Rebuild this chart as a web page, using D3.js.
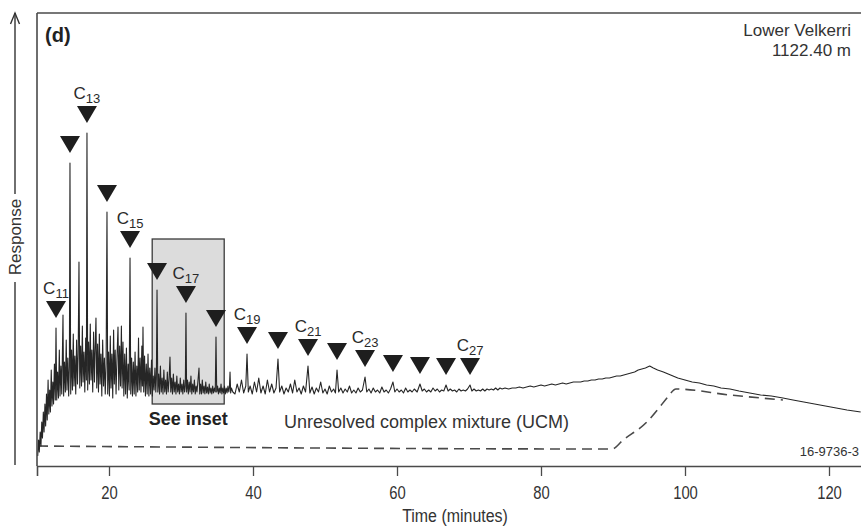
<!DOCTYPE html>
<html>
<head>
<meta charset="utf-8">
<script src="https://cdn.jsdelivr.net/npm/d3@7"></script>
<style>
  html, body { margin: 0; padding: 0; background: #fff; }
  svg { display: block; }
  .sans { font-family: "Liberation Sans", Arial, sans-serif; }
</style>
</head>
<body>
<svg id="chart" width="861" height="532"></svg>
<script>
// ---------------- DATA ----------------
const xTicks = [20, 40, 60, 80, 100, 120];
const xLabel = "Time (minutes)";
const yLabel = "Response";
const panelLabel = "(d)";
const sampleName = "Lower Velkerri";
const sampleDepth = "1122.40 m";
const figureCode = "16-9736-3";
const ucmLabel = "Unresolved complex mixture (UCM)";
const insetLabel = "See inset";

// n-alkane peaks (carbon number, retention time min, peak response)
const carbonNumbers = [11, 12, 13, 14, 15, 16, 17, 18, 19, 20, 21, 22, 23, 24, 25, 26, 27];
const alkaneTimes   = [12.64, 14.58, 16.94, 19.72, 22.92, 26.67, 30.69, 34.86, 39.17, 43.47, 47.64, 51.67, 55.56, 59.44, 63.19, 66.81, 70.14];
const alkanePeaks   = [138, 303, 333, 254, 208, 176, 153, 129, 112, 107, 100, 96, 89, 84, 82, 81, 81];
const labelledCarbons = [11, 13, 15, 17, 19, 21, 23, 27];

// inset box (time range, response range)
const insetTimes = [26, 36];
const insetResponse = [62, 227];

// UCM hump baseline (dashed)
const ucmTime = [10.14, 89.86, 91.4, 94.7, 96.5, 97.6, 98.75, 106.25, 113.6];
const ucmResp = [20, 17, 26, 44, 59, 69, 77, 71, 66];

// chromatogram trace [time, response]
const traceEarly = [
[10.10,10],[10.22,26],[10.32,14],[10.44,34],[10.55,20],[10.66,44],[10.76,28],[10.88,54],[10.98,34],[11.10,62],
[11.20,40],[11.32,72],[11.42,46],[11.54,86],[11.64,52],[11.76,76],[11.86,54],[11.98,96],[12.08,60],[12.20,84],
[12.30,62],[12.42,102],[12.54,66],[12.64,138],[12.74,66],[12.86,94],[12.98,68],[13.10,116],[13.20,70],[13.32,100],
[13.44,72],[13.52,108],[13.61,151],[13.70,70],[13.82,104],[13.94,74],[14.06,126],[14.16,76],[14.28,108],[14.40,70],
[14.50,100],[14.58,303],[14.68,72],[14.80,116],[14.92,76],[15.04,132],[15.14,80],[15.26,110],[15.38,72],[15.50,126],
[15.62,82],[15.72,112],[15.83,204],[15.94,78],[16.06,120],[16.18,80],[16.30,140],[16.40,84],[16.52,114],[16.64,74],
[16.76,128],[16.86,86],[16.94,333],[17.04,76],[17.16,124],[17.28,82],[17.40,142],[17.50,86],[17.62,116],[17.74,74],
[17.86,134],[17.98,84],[18.08,118],[18.19,148],[18.30,78],[18.42,122],[18.54,74],[18.66,132],[18.76,82],[18.88,112],
[19.00,70],[19.12,126],[19.24,80],[19.36,108],[19.48,72],[19.60,102],[19.72,254],[19.82,72],[19.94,114],[20.06,70],
[20.18,130],[20.28,78],[20.40,112],[20.52,68],[20.64,136],[20.74,82],[20.86,116],[20.98,72],[21.10,106],[21.25,139],
[21.36,76],[21.48,120],[21.60,80],[21.72,140],[21.82,78],[21.94,124],[22.06,70],[22.18,112],[22.30,72],[22.42,118],
[22.54,68],[22.66,102],[22.80,76],[22.92,208],[23.02,72],[23.14,108],[23.26,70],[23.38,104],[23.50,72],[23.62,114],
[23.74,70],[23.86,100],[23.98,74],[24.10,128],[24.20,76],[24.32,108],[24.44,74],[24.56,120],[24.64,80],[24.72,139],
[24.82,74],[24.94,110],[25.06,70],[25.18,102],[25.30,72],[25.42,112],[25.54,70],[25.66,98],[25.78,72],[25.90,106],
[26.02,70],[26.14,90],[26.26,76],[26.38,98],[26.50,74],[26.58,88],[26.67,176],[26.78,74],[26.90,92],[27.02,72],
[27.14,100],[27.26,74],[27.38,88],[27.50,72],[27.62,96],[27.74,74],[27.86,86],[27.98,72],[28.10,94],[28.22,74],
[28.34,86],[28.47,109],[28.58,74],[28.70,88],[28.82,72],[28.94,92],[29.06,74],[29.18,84],[29.30,72],[29.42,90],
[29.54,74],[29.66,82],[29.78,72],[29.90,88],[30.02,74],[30.14,82],[30.26,72],[30.38,86],[30.50,74],[30.60,80],
[30.69,153],[30.78,74],[30.90,86],[31.02,72],[31.14,84],[31.26,74],[31.38,90],[31.50,72],[31.62,82],[31.74,74],
[31.86,86],[31.98,72],[32.10,80],[32.22,74],[32.34,84],[32.50,98],[32.60,72],[32.72,82],[32.84,72],[32.96,86],
[33.08,73],[33.20,80],[33.32,72],[33.44,84],[33.56,73],[33.68,79],[33.80,72],[33.92,82],[34.04,73],[34.16,78],
[34.28,72],[34.40,80],[34.52,73],[34.64,78],[34.76,74],[34.86,129],[34.96,74],[35.08,80],[35.20,72],[35.32,78],
[35.44,73],[35.56,82],[35.68,72],[35.80,78],[35.92,73],[36.04,80],[36.16,72],[36.28,78],[36.40,73],[36.52,80],
[36.64,74],[36.72,78],[36.81,94],[36.90,73],[37.00,78]
];
const traceMiddle = [
[37.2,74],[37.5,72],[37.8,82],[38.1,74],[38.4,86],[38.7,73],[39.0,80],[39.17,112],[39.35,74],[39.6,80],
[39.9,72],[40.2,84],[40.5,74],[40.8,88],[41.1,73],[41.4,80],[41.7,72],[42.0,86],[42.3,74],[42.6,82],
[42.9,73],[43.2,78],[43.47,107],[43.7,74],[44.0,80],[44.3,72],[44.6,78],[44.9,74],[45.2,82],[45.5,73],
[45.8,86],[46.1,74],[46.4,78],[46.7,72],[47.0,80],[47.3,74],[47.64,100],[47.9,73],[48.2,79],[48.5,72],
[48.8,78],[49.1,74],[49.4,84],[49.7,73],[50.0,77],[50.3,72],[50.6,80],[50.9,74],[51.2,77],[51.45,73],
[51.67,96],[51.9,74],[52.2,78],[52.5,73],[52.8,77],[53.1,74],[53.4,80],[53.7,73],[54.0,76],[54.3,73],
[54.6,78],[54.9,74],[55.2,76],[55.56,89],[55.8,74],[56.1,77],[56.4,73],[56.7,78],[57.0,74],[57.3,76],
[57.6,73],[57.9,79],[58.2,74],[58.5,76],[58.8,73],[59.1,77],[59.44,84],[59.7,74],[60.0,77],[60.3,74],
[60.6,76],[60.9,73],[61.2,78],[61.5,74],[61.8,76],[62.1,74],[62.4,77],[62.8,74],[63.19,82],[63.5,75],
[63.8,77],[64.1,74],[64.4,76],[64.7,74],[65.0,78],[65.3,75],[65.6,77],[65.9,74],[66.2,76],[66.5,75],
[66.81,81],[67.1,75],[67.4,77],[67.7,75],[68.0,76],[68.3,74],[68.6,77],[68.9,75],[69.2,76],[69.5,75],
[69.8,77],[70.14,81],[70.4,75],[70.7,77],[71.0,75],[71.3,76],[71.6,75],[71.9,77],[72.2,75],[72.5,77],
[72.8,76],[73.1,77],[73.4,76],[73.7,78],[74.0,76],[74.3,78]
];
const traceLate = [
[74.6,77],[75.0,78],[75.5,77],[76.0,78],[76.5,78],[77.0,79],[77.5,78],[78.0,79],[78.5,80],[79.0,79],
[79.5,80],[80.0,81],[80.5,80],[81.0,81],[81.5,82],[82.0,81],[82.5,82],[83.0,83],[83.5,82],[84.0,83],
[84.5,84],[85.0,84],[85.5,84],[86.0,85],[86.5,85],[87.0,86],[87.5,86],[88.0,87],[88.5,87],[89.0,88],
[89.5,88],[90.0,89],[90.5,90],[91.0,90],[91.5,91],[92.0,92],[92.5,93],[93.0,94],[93.5,96],[94.0,97],
[94.5,98],[95.1,100],[95.6,98],[96.2,96],[97.0,94],[98.0,91],[99.0,88],[100.0,86],[101.0,84],[102.0,83],
[103.0,81],[104.0,80],[105.0,78],[106.25,77],[107.5,75],[109.0,73],[110.5,71],[112.0,70],[113.6,68],[115.0,66],
[116.5,64],[118.0,62],[119.5,60],[121.0,58],[122.5,56],[124.4,54]
];

// ---------------- CHART ----------------
const svg = d3.select("#chart");
const plotLeft = 37, plotTop = 13, plotBottom = 466;

const x = d3.scaleLinear().domain([10, 125]).range([plotLeft, plotLeft + 7.2 * 115]);
const y = d3.scaleLinear().domain([0, 453]).range([plotBottom, plotTop]);

const ink = "#262626";

// inset box
svg.append("rect")
  .attr("x", x(insetTimes[0])).attr("y", y(insetResponse[1]))
  .attr("width", x(insetTimes[1]) - x(insetTimes[0]))
  .attr("height", y(insetResponse[0]) - y(insetResponse[1]))
  .attr("fill", "#dcdcdc").attr("stroke", "#3a3a3a").attr("stroke-width", 1.3);

// UCM dashed
const ucmData = ucmTime.map((t, i) => [t, ucmResp[i]]);
svg.append("path")
  .datum(ucmData)
  .attr("d", d3.line().x(d => x(d[0])).y(d => y(d[1])).curve(d3.curveMonotoneX))
  .attr("fill", "none").attr("stroke", "#4a4a4a").attr("stroke-width", 1.6)
  .attr("stroke-dasharray", "10,6");

// trace
const trace = traceEarly.concat(traceMiddle, traceLate);
svg.append("path")
  .datum(trace)
  .attr("d", d3.line().x(d => x(d[0])).y(d => y(d[1])))
  .attr("fill", "none").attr("stroke", ink).attr("stroke-width", 1.1)
  .attr("stroke-linejoin", "round");

// frame: left + top + x axis
svg.append("line").attr("x1", plotLeft).attr("x2", 900).attr("y1", plotTop).attr("y2", plotTop)
  .attr("stroke", "#4a4a4a").attr("stroke-width", 1.6);
svg.append("line").attr("x1", plotLeft).attr("x2", plotLeft).attr("y1", plotTop).attr("y2", plotBottom)
  .attr("stroke", "#4a4a4a").attr("stroke-width", 1.6);

const xAxis = d3.axisBottom(x).tickValues(xTicks).tickSize(10).tickPadding(10).tickFormat(d3.format("d"));
const gx = svg.append("g").attr("transform", `translate(0,${plotBottom})`).call(xAxis);
gx.attr("font-family", "Liberation Sans, Arial, sans-serif").attr("font-size", 19);
gx.select(".domain").attr("stroke", "#4a4a4a").attr("stroke-width", 1.6);
gx.selectAll(".tick line").attr("stroke", "#4a4a4a").attr("stroke-width", 1.3);
gx.selectAll(".tick text").attr("fill", "#333").attr("transform", "scale(0.78,1)");

svg.append("text").attr("class", "sans")
  .attr("transform", "translate(455,522) scale(0.84,1)")
  .attr("text-anchor", "middle")
  .attr("font-size", 19).attr("fill", "#333").text(xLabel);

// y axis arrow
const arrowX = 15;
svg.append("line").attr("x1", arrowX).attr("x2", arrowX).attr("y1", 13).attr("y2", 465)
  .attr("stroke", "#333").attr("stroke-width", 1.4);
svg.append("path").attr("d", `M${arrowX - 4.5},${24} L${arrowX},${13} L${arrowX + 4.5},${24}`)
  .attr("fill", "none").attr("stroke", "#333").attr("stroke-width", 1.4);
svg.append("rect").attr("x", 4).attr("y", 194).attr("width", 24).attr("height", 88).attr("fill", "#fff");
svg.append("text").attr("class", "sans")
  .attr("transform", `translate(21,237) rotate(-90)`)
  .attr("text-anchor", "middle").attr("font-size", 17).attr("fill", "#333").text(yLabel);

// markers
const triW = 20, triH = 17, triGap = 10;
const peaks = carbonNumbers.map((c, i) => ({ c, t: alkaneTimes[i], r: alkanePeaks[i] }));
svg.append("g").selectAll("path").data(peaks).join("path")
  .attr("d", d => {
    const px = x(d.t), tip = y(d.r) - triGap;
    return `M${px - triW / 2},${tip - triH} L${px + triW / 2},${tip - triH} L${px},${tip} Z`;
  })
  .attr("fill", "#1e1e1e");

const labs = svg.append("g").selectAll("text").data(peaks.filter(d => labelledCarbons.includes(d.c))).join("text")
  .attr("class", "sans")
  .attr("x", d => x(d.t)).attr("y", d => y(d.r) - triGap - triH - 7)
  .attr("text-anchor", "middle").attr("fill", "#2a2a2a");
labs.append("tspan").attr("font-size", 17).text("C");
labs.append("tspan").attr("font-size", 13).attr("dy", 4).text(d => d.c);

// texts
svg.append("text").attr("class", "sans").attr("x", 45).attr("y", 42)
  .attr("font-size", 20).attr("font-weight", "bold").attr("fill", "#222").text(panelLabel);
svg.append("text").attr("class", "sans").attr("x", 851).attr("y", 36).attr("text-anchor", "end")
  .attr("font-size", 17).attr("fill", "#333").text(sampleName);
svg.append("text").attr("class", "sans").attr("x", 851).attr("y", 55.5).attr("text-anchor", "end")
  .attr("font-size", 17).attr("fill", "#333").text(sampleDepth);
svg.append("text").attr("class", "sans").attr("x", (x(insetTimes[0]) + x(insetTimes[1])) / 2).attr("y", 425)
  .attr("text-anchor", "middle").attr("font-size", 18).attr("font-weight", "bold").attr("fill", "#222").text(insetLabel);
svg.append("text").attr("class", "sans").attr("x", 284).attr("y", 428)
  .attr("font-size", 18).attr("fill", "#333").text(ucmLabel);
svg.append("text").attr("class", "sans").attr("x", 859).attr("y", 456).attr("text-anchor", "end")
  .attr("font-size", 13).attr("fill", "#333").text(figureCode);
</script>
</body>
</html>
